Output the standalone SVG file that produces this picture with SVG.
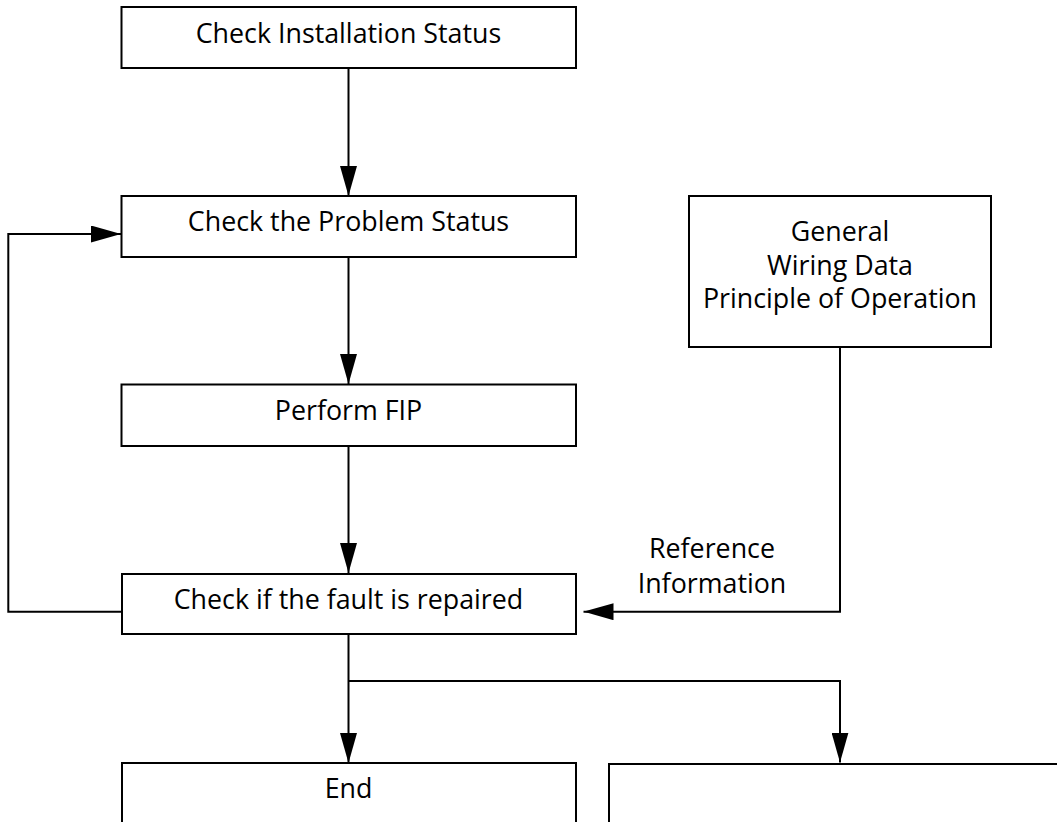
<svg xmlns="http://www.w3.org/2000/svg" width="1057" height="822" viewBox="0 0 1057 822">
<style>
.box{fill:#fff;stroke:#000;stroke-width:2}
.t{font-family:"Open Sans","Liberation Sans",sans-serif;font-size:26.8px;fill:#000;text-anchor:middle}
.c{fill:none;stroke:#000;stroke-width:2}
</style>
<defs>
<marker id="ah" markerUnits="userSpaceOnUse" markerWidth="30" markerHeight="17" refX="30" refY="8.5" orient="auto">
<path d="M0,0 L30,8.5 L0,17 z" fill="#000"/>
</marker>
</defs>
<rect width="1057" height="822" fill="#fff"/>
<g id="connectors">
<path class="c" d="M348.5,68 V196" marker-end="url(#ah)"/>
<path class="c" d="M348.5,257 V384" marker-end="url(#ah)"/>
<path class="c" d="M348.5,446 V573" marker-end="url(#ah)"/>
<path class="c" d="M122,611.7 H8.3 V234 H121" marker-end="url(#ah)"/>
<path class="c" d="M840,347 V611.7 H583.5" marker-end="url(#ah)"/>
<path class="c" d="M348.5,634 V763" marker-end="url(#ah)"/>
<path class="c" d="M348.5,681 H840 V762.5" marker-end="url(#ah)"/>
</g>
<g id="n1"><rect class="box" x="121.5" y="7" width="454.5" height="61"/><text class="t" x="348.5" y="42.5">Check Installation Status</text></g>
<g id="n2"><rect class="box" x="121.5" y="196" width="454.5" height="61"/><text class="t" x="348.5" y="231">Check the Problem Status</text></g>
<g id="n3"><rect class="box" x="121.5" y="384.5" width="454.5" height="61.5"/><text class="t" x="348.5" y="419.5">Perform FIP</text></g>
<g id="n4"><rect class="box" x="122" y="574" width="454" height="60"/><text class="t" x="348.5" y="608.5">Check if the fault is repaired</text></g>
<g id="n5"><rect class="box" x="689" y="196" width="302" height="151"/><text class="t" x="840" y="241">General</text><text class="t" x="840" y="274.5">Wiring Data</text><text class="t" x="840" y="308">Principle of Operation</text></g>
<g id="lbl"><text class="t" x="712" y="558">Reference</text><text class="t" x="712" y="593">Information</text></g>
<g id="n6"><rect class="box" x="122" y="763" width="454" height="100"/><text class="t" x="348.5" y="798">End</text></g>
<g id="n7"><rect class="box" x="609" y="764" width="500" height="100"/></g>
</svg>
